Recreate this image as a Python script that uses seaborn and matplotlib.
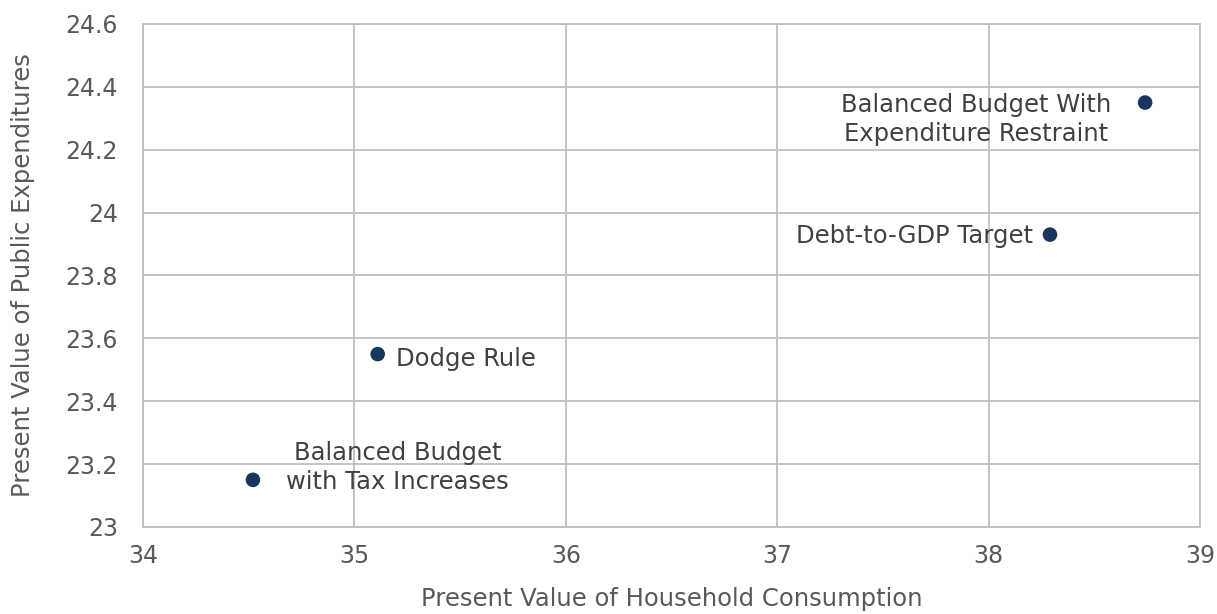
import matplotlib
matplotlib.use("Agg")
import matplotlib.pyplot as plt
import seaborn as sns
import pandas as pd

# Данні з графіка
policies = ["Balanced Budget\nwith Tax Increases", "Dodge Rule",
            "Debt-to-GDP Target", "Balanced Budget With\nExpenditure Restraint"]
consumption = [34.52, 35.11, 38.29, 38.74]
expenditures = [23.15, 23.55, 23.93, 24.35]
x_ticks = [34, 35, 36, 37, 38, 39]
y_ticks = [23, 23.2, 23.4, 23.6, 23.8, 24, 24.2, 24.4, 24.6]
y_tick_labels = ["23", "23.2", "23.4", "23.6", "23.8", "24", "24.2", "24.4", "24.6"]

df = pd.DataFrame({"policy": policies, "x": consumption, "y": expenditures})

sns.set_style("white")
plt.rcParams["font.family"] = ["DejaVu Sans"]
text_color = "#595959"
grid_color = "#bfbfbf"

fig = plt.figure(figsize=(12.17, 6.14), dpi=100)
ax = fig.add_axes([0.1175, 0.1417, 0.8686, 0.8193])

sns.scatterplot(data=df, x="x", y="y", ax=ax, color="#17375e", s=110,
                edgecolor="none", zorder=3)

ax.set_xlim(34, 39)
ax.set_ylim(23, 24.6)
ax.set_xticks(x_ticks)
ax.set_yticks(y_ticks)
ax.set_yticklabels(y_tick_labels)
ax.grid(True, color=grid_color, linewidth=1.3)
ax.set_axisbelow(True)
for s in ax.spines.values():
    s.set_color(grid_color)
    s.set_linewidth(1.3)
ax.tick_params(axis="both", length=0, labelsize=17, colors=text_color)
ax.tick_params(axis="x", pad=12)
ax.tick_params(axis="y", pad=18)

ax.set_xlabel("Present Value of Household Consumption", fontsize=17.5,
              color=text_color)
ax.set_ylabel("Present Value of Public Expenditures", fontsize=17.5,
              color=text_color)
ax.xaxis.set_label_coords(0.5, -0.12)
ax.yaxis.set_label_coords(-0.102, 0.5)

# Підписи точок
label_style = dict(fontsize=17.5, color="#404040", linespacing=1.25)
ax.annotate(policies[0], (consumption[0], expenditures[0]), xytext=(104, 9),
            textcoords="offset points", ha="center", va="center", **label_style)
ax.annotate(policies[1], (consumption[1], expenditures[1]), xytext=(13, -3.5),
            textcoords="offset points", ha="left", va="center", **label_style)
ax.annotate(policies[2], (consumption[2], expenditures[2]), xytext=(-12, -1),
            textcoords="offset points", ha="right", va="center", **label_style)
ax.annotate(policies[3], (consumption[3], expenditures[3]), xytext=(-122, -12),
            textcoords="offset points", ha="center", va="center", **label_style)

fig.savefig("out.png", dpi=100)
